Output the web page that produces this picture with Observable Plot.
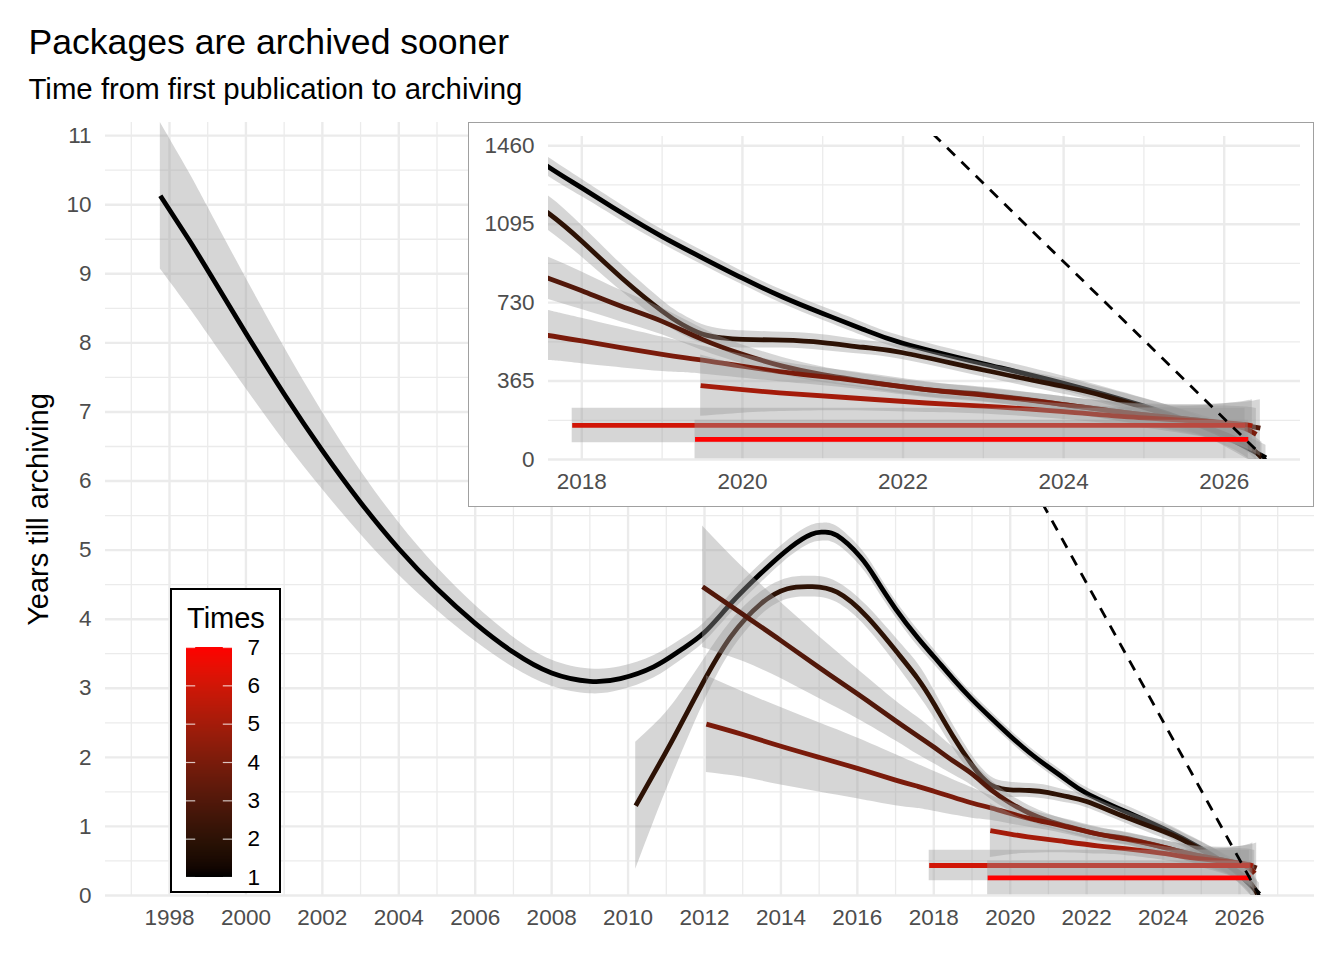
<!DOCTYPE html>
<html>
<head>
<meta charset="utf-8">
<script src="https://cdn.jsdelivr.net/npm/d3@7"></script>
<script src="https://cdn.jsdelivr.net/npm/@observablehq/plot@0.6"></script>
<style>
html, body { margin: 0; padding: 0; background: #fff; }
#chart { position: relative; width: 1344px; height: 960px; overflow: hidden; font-family: "Liberation Sans", Arial, sans-serif; background: #fff; }
.title { position: absolute; left: 28.5px; top: 25px; margin: 0; font-size: 35.6px; line-height: 1; font-weight: normal; color: #000; white-space: nowrap; }
.subtitle { position: absolute; left: 28.5px; top: 74.2px; margin: 0; font-size: 29.4px; line-height: 1; font-weight: normal; color: #000; white-space: nowrap; }
#main { position: absolute; left: 0; top: 110px; }
#inset { position: absolute; left: 468px; top: 122px; width: 846px; height: 385px; background: #fff; }
#insetBorder { position: absolute; left: 468px; top: 122px; width: 846px; height: 385px; box-sizing: border-box; border: 1.5px solid #a0a0a0; pointer-events: none; }
#legend { position: absolute; left: 170px; top: 588px; width: 111px; height: 305px; box-sizing: border-box; border: 2px solid #000; background: #fff; }
#legend svg, #main svg, #inset svg { display: block; }
</style>
</head>
<body>
<div id="chart">
  <h1 class="title">Packages are archived sooner</h1>
  <h2 class="subtitle">Time from first publication to archiving</h2>
  <div id="main"></div>
  <div id="inset"></div>
  <div id="insetBorder"></div>
  <div id="legend"></div>
</div>
<script>
// ---------------- data (years from first publication until archiving) ----------------
const timesLevels = [1, 2, 3, 4, 5, 6, 7];

// Times = 1
const s1Year = [1997.76, 1998.5, 1999.0, 2000.0, 2001.0, 2002.0, 2003.0, 2004.0, 2005.0, 2006.0, 2007.0, 2008.0, 2009.0, 2009.8, 2010.67, 2011.37, 2012.0, 2012.68, 2013.47, 2014.25, 2014.8, 2015.1, 2015.47, 2016.08, 2016.5, 2017.0, 2017.58, 2018.0, 2018.5, 2019.0, 2019.5, 2020.0, 2020.5, 2021.0, 2021.5, 2022.0, 2023.0, 2024.0, 2025.0, 2025.5, 2026.0, 2026.52];
const s1Value = [10.13, 9.50, 9.05, 8.14, 7.26, 6.44, 5.69, 5.02, 4.44, 3.94, 3.52, 3.22, 3.10, 3.14, 3.31, 3.55, 3.81, 4.22, 4.66, 5.04, 5.23, 5.26, 5.21, 4.90, 4.57, 4.15, 3.73, 3.46, 3.14, 2.84, 2.57, 2.31, 2.07, 1.86, 1.66, 1.48, 1.22, 0.97, 0.68, 0.51, 0.30, 0.02];
const s1Half = [1.06, 0.98, 0.92, 0.80, 0.68, 0.56, 0.46, 0.38, 0.31, 0.26, 0.22, 0.19, 0.18, 0.17, 0.16, 0.15, 0.14, 0.14, 0.14, 0.13, 0.13, 0.13, 0.13, 0.13, 0.13, 0.12, 0.12, 0.11, 0.10, 0.09, 0.09, 0.085, 0.085, 0.085, 0.085, 0.085, 0.09, 0.09, 0.10, 0.11, 0.13, 0.16];

// Times = 2
const s2Year = [2010.20, 2010.67, 2011.20, 2011.94, 2012.68, 2013.47, 2014.17, 2014.82, 2015.47, 2016.26, 2017.04, 2017.58, 2018.0, 2018.5, 2019.0, 2019.25, 2019.5, 2019.75, 2020.0, 2020.5, 2021.0, 2021.5, 2022.0, 2023.0, 2024.0, 2024.5, 2025.3, 2026.13, 2026.47];
const s2Value = [1.30, 1.76, 2.29, 3.06, 3.74, 4.22, 4.44, 4.47, 4.39, 4.03, 3.52, 3.14, 2.78, 2.31, 1.89, 1.72, 1.60, 1.55, 1.53, 1.52, 1.49, 1.43, 1.36, 1.14, 0.93, 0.81, 0.57, 0.27, 0.02];
const s2Half = [0.92, 0.70, 0.50, 0.32, 0.22, 0.17, 0.15, 0.15, 0.15, 0.16, 0.19, 0.22, 0.20, 0.17, 0.14, 0.13, 0.12, 0.11, 0.11, 0.10, 0.10, 0.09, 0.09, 0.09, 0.10, 0.10, 0.12, 0.15, 0.20];

// Times = 3
const s3Year = [2011.95, 2013.0, 2014.0, 2015.0, 2016.0, 2017.0, 2017.58, 2018.0, 2018.5, 2019.0, 2019.5, 2020.0, 2020.5, 2021.0, 2021.5, 2022.29, 2023.0, 2024.0, 2025.0, 2026.0, 2026.45];
const s3Value = [4.47, 4.07, 3.69, 3.30, 2.92, 2.53, 2.31, 2.15, 1.95, 1.76, 1.53, 1.34, 1.19, 1.08, 1.00, 0.89, 0.83, 0.70, 0.57, 0.47, 0.40];
const s3Half = [0.88, 0.68, 0.55, 0.45, 0.36, 0.29, 0.27, 0.24, 0.20, 0.17, 0.14, 0.12, 0.11, 0.10, 0.09, 0.09, 0.09, 0.10, 0.14, 0.24, 0.36];

// Times = 4
const s4Year = [2012.05, 2013.0, 2014.0, 2015.0, 2016.0, 2017.0, 2017.58, 2018.0, 2019.0, 2019.48, 2020.46, 2021.29, 2022.29, 2023.0, 2024.0, 2025.0, 2026.0, 2026.4];
const s4Value = [2.48, 2.33, 2.16, 2.00, 1.84, 1.67, 1.58, 1.51, 1.34, 1.27, 1.12, 1.02, 0.89, 0.82, 0.70, 0.57, 0.46, 0.32];
const s4Half = [0.70, 0.62, 0.56, 0.50, 0.44, 0.37, 0.32, 0.29, 0.22, 0.18, 0.13, 0.11, 0.10, 0.09, 0.10, 0.13, 0.22, 0.33];

// Times = 5
const s5Year = [2019.48, 2020.0, 2020.46, 2021.29, 2022.29, 2023.0, 2024.0, 2025.0, 2026.0, 2026.35];
const s5Value = [0.94, 0.89, 0.85, 0.79, 0.72, 0.68, 0.61, 0.53, 0.47, 0.43];
const s5Half = [0.39, 0.30, 0.24, 0.17, 0.12, 0.10, 0.10, 0.13, 0.24, 0.33];

// Times = 6
const s6Year = [2017.88, 2020.0, 2022.0, 2024.0, 2026.26];
const s6Value = [0.434, 0.434, 0.434, 0.434, 0.434];
const s6Half = [0.22, 0.22, 0.22, 0.22, 0.22];

// Times = 7
const s7Year = [2019.41, 2021.0, 2023.0, 2025.0, 2026.3];
const s7Value = [0.256, 0.256, 0.256, 0.256, 0.256];
const s7Half = [0.245, 0.245, 0.245, 0.245, 0.245];

// upper limit: time left until the data snapshot
const snapshotYear = 2026.52;
const limitYear = [2014.0, 2026.52];

// ticks
const mainXTicks = [1998, 2000, 2002, 2004, 2006, 2008, 2010, 2012, 2014, 2016, 2018, 2020, 2022, 2024, 2026];
const mainXMinor = [1997, 1999, 2001, 2003, 2005, 2007, 2009, 2011, 2013, 2015, 2017, 2019, 2021, 2023, 2025, 2027];
const mainYTicks = [0, 1, 2, 3, 4, 5, 6, 7, 8, 9, 10, 11];
const mainYMinor = [0.5, 1.5, 2.5, 3.5, 4.5, 5.5, 6.5, 7.5, 8.5, 9.5, 10.5];
const insetXTicks = [2018, 2020, 2022, 2024, 2026];
const insetXMinor = [2019, 2021, 2023, 2025];
const insetYTicks = [0, 365, 730, 1095, 1460];
const insetYMinor = [182.5, 547.5, 912.5, 1277.5];
const legendTicks = [1, 2, 3, 4, 5, 6, 7];

// ---------------- build ----------------
const seriesDefs = [
  [1, s1Year, s1Value, s1Half], [2, s2Year, s2Value, s2Half], [3, s3Year, s3Value, s3Half],
  [4, s4Year, s4Value, s4Half], [5, s5Year, s5Value, s5Half], [6, s6Year, s6Value, s6Half],
  [7, s7Year, s7Value, s7Half]
];
const series = seriesDefs.map(([t, xs, ys, hs]) =>
  xs.map((x, i) => ({times: t, x, y: ys[i], lo: ys[i] - hs[i], hi: ys[i] + hs[i]})));
const limitRows = limitYear.map(x => ({x, y: snapshotYear - x}));

const colorScale = {type: "linear", domain: [1, 7], range: ["black", "red"], interpolate: "lab"};
const gridColor = "#EBEBEB";
const FONT = '"Liberation Sans", Arial, sans-serif';
const CURVE = "natural";

function smoothMarks(k) {
  const marks = [];
  for (const rows of series) {
    marks.push(Plot.areaY(rows, {x: "x", y1: d => d.lo * k, y2: d => d.hi * k, fill: "#999999", fillOpacity: 0.4, curve: CURVE, clip: true}));
    marks.push(Plot.line(rows, {x: "x", y: d => d.y * k, stroke: "times", strokeWidth: 4.8, strokeLinecap: "butt", curve: CURVE, clip: true}));
  }
  marks.push(Plot.line(limitRows, {x: "x", y: d => d.y * k, stroke: "black", strokeWidth: 2.8, strokeDasharray: "11,9", strokeLinecap: "butt", clip: true}));
  return marks;
}

function grids(xMinor, xMajor, yMinor, yMajor) {
  return [
    Plot.gridY(yMinor, {stroke: gridColor, strokeOpacity: 1, strokeWidth: 1.3}),
    Plot.gridX(xMinor, {stroke: gridColor, strokeOpacity: 1, strokeWidth: 1.3}),
    Plot.gridY(yMajor, {stroke: gridColor, strokeOpacity: 1, strokeWidth: 2.4}),
    Plot.gridX(xMajor, {stroke: gridColor, strokeOpacity: 1, strokeWidth: 2.4})
  ];
}

// main chart
const mainPlot = Plot.plot({
  width: 1344, height: 850,
  marginLeft: 105, marginRight: 30, marginTop: 12, marginBottom: 65,
  style: {fontFamily: FONT, fontSize: "22.5px", color: "#4D4D4D", background: "white", overflow: "visible"},
  x: {domain: [1996.325, 2027.963]},
  y: {domain: [0, 11.19]},
  color: colorScale,
  marks: [
    ...grids(mainXMinor, mainXTicks, mainYMinor, mainYTicks),
    Plot.axisX(mainXTicks, {tickSize: 0, tickPadding: 14, tickFormat: "d", label: null}),
    Plot.axisY(mainYTicks, {tickSize: 0, tickPadding: 14, tickFormat: "d", label: null}),
    ...smoothMarks(1)
  ]
});
document.getElementById("main").appendChild(mainPlot);
d3.select(mainPlot).append("text")
  .attr("transform", "translate(48,399.5) rotate(-90)")
  .attr("text-anchor", "middle")
  .attr("fill", "#000")
  .style("font-size", "29px")
  .style("font-family", FONT)
  .text("Years till archiving");

// inset (days)
const DAYS = 365.25;
const insetPlot = Plot.plot({
  width: 846, height: 385,
  marginLeft: 80, marginRight: 14, marginTop: 14, marginBottom: 48,
  style: {fontFamily: FONT, fontSize: "22.5px", color: "#4D4D4D", background: "white", overflow: "visible"},
  x: {domain: [2017.585, 2026.95]},
  y: {domain: [0, 1503]},
  color: colorScale,
  marks: [
    ...grids(insetXMinor, insetXTicks, insetYMinor, insetYTicks),
    Plot.axisX(insetXTicks, {tickSize: 0, tickPadding: 14, tickFormat: "d", label: null}),
    Plot.axisY(insetYTicks, {tickSize: 0, tickPadding: 14, tickFormat: "d", label: null}),
    ...smoothMarks(DAYS)
  ]
});
document.getElementById("inset").appendChild(insetPlot);

// legend (colour bar)
const nBins = 300;
const bins = d3.range(nBins).map(i => ({lo: 1 + 6 * i / nBins, hi: 1 + 6 * (i + 1) / nBins, mid: 1 + 6 * (i + 0.5) / nBins}));
const legendPlot = Plot.plot({
  width: 107, height: 301,
  marginLeft: 14, marginRight: 47, marginTop: 57, marginBottom: 14,
  style: {fontFamily: FONT, fontSize: "22.5px", color: "#000", background: "white", overflow: "visible"},
  x: {domain: [0, 1], axis: null},
  y: {domain: [1, 7], axis: null},
  color: colorScale,
  marks: [
    Plot.rect(bins, {x1: 0, x2: 1, y1: "lo", y2: "hi", fill: "mid", shapeRendering: "crispEdges"}),
    Plot.ruleY(legendTicks, {x1: 0, x2: 0.2, stroke: "white", strokeOpacity: 0.75, strokeWidth: 1.2}),
    Plot.ruleY(legendTicks, {x1: 0.8, x2: 1, stroke: "white", strokeOpacity: 0.75, strokeWidth: 1.2}),
    Plot.axisY(legendTicks, {anchor: "right", tickSize: 0, tickPadding: 15, tickFormat: "d", label: null, fill: "#000"})
  ]
});
document.getElementById("legend").appendChild(legendPlot);
d3.select(legendPlot).append("text")
  .attr("x", 15).attr("y", 38)
  .attr("text-anchor", "start")
  .attr("fill", "#000")
  .style("font-size", "29px")
  .style("font-family", FONT)
  .text("Times");
</script>
</body>
</html>
